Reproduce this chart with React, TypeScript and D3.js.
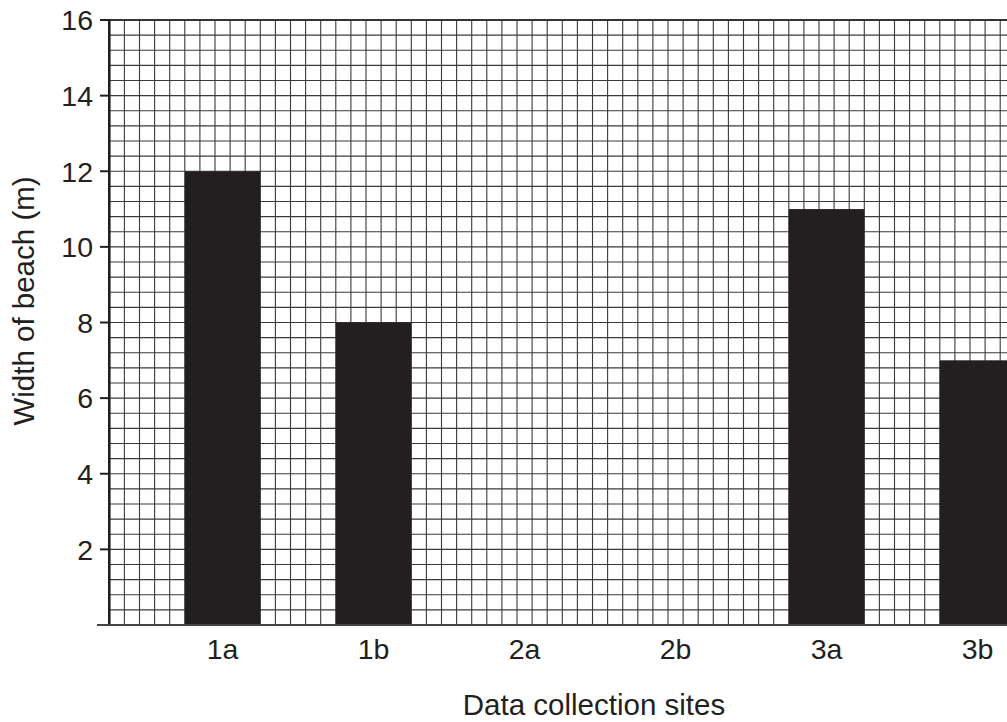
import React from "react";
import * as d3 from "d3";

const categories = ["1a", "1b", "2a", "2b", "3a", "3b"];
const widths = [12, 8, 0, 0, 11, 7];
const yTicks = [2, 4, 6, 8, 10, 12, 14, 16];
const yTitle = "Width of beach (m)";
const xTitle = "Data collection sites";

const W = 1007;
const H = 722;
const X0 = 109.3;
const CELL = 15.1;
const NCOLS = 60;
const Y_TOP = 20;
const Y_BOT = 625;
const FONT = "'Liberation Sans', Arial, Helvetica, sans-serif";
const INK = "#231f20";

export default function App() {
  const x = d3
    .scaleBand<string>()
    .domain(categories)
    .range([X0, X0 + NCOLS * CELL])
    .paddingInner(0.5)
    .paddingOuter(0.25)
    .align(1);
  const y = d3.scaleLinear().domain([0, 16]).range([Y_BOT, Y_TOP]);
  const cellX = d3.scaleLinear().domain([0, NCOLS]).range([X0, X0 + NCOLS * CELL]);

  const hLines = d3.range(0, 41).map((i) => y(i * 0.4));
  const vLines = d3.range(0, NCOLS + 1).map((i) => cellX(i));

  return (
    <svg
      width={W}
      height={H}
      style={{ position: "absolute", left: 0, top: 0, background: "#fff" }}
      fontFamily={FONT}
    >
      <rect x={0} y={0} width={W} height={H} fill="#fff" />
      <g stroke="#3a3a3a" strokeWidth={1.1}>
        {hLines.map((yy, i) => (
          <line key={"h" + i} x1={X0} x2={X0 + NCOLS * CELL} y1={yy} y2={yy} />
        ))}
        {vLines.map((xx, i) => (
          <line key={"v" + i} x1={xx} x2={xx} y1={Y_TOP} y2={Y_BOT} />
        ))}
      </g>
      <line x1={X0} x2={X0 + NCOLS * CELL} y1={Y_TOP} y2={Y_TOP} stroke="#333" strokeWidth={2} />
      {categories.map((c, i) =>
        widths[i] > 0 ? (
          <rect
            key={c}
            x={x(c)}
            y={y(widths[i])}
            width={x.bandwidth()}
            height={y(0) - y(widths[i])}
            fill={INK}
          />
        ) : null
      )}
      <line x1={X0} x2={X0} y1={Y_TOP - 1} y2={Y_BOT} stroke={INK} strokeWidth={2.6} />
      <line x1={97} x2={W} y1={Y_BOT} y2={Y_BOT} stroke="#444" strokeWidth={2.2} />
      {yTicks.map((t) => (
        <g key={t}>
          <line x1={100} x2={X0} y1={y(t)} y2={y(t)} stroke={INK} strokeWidth={2} />
          <text x={93} y={y(t)} dy="0.36em" textAnchor="end" fontSize={28.5} fill={INK}>
            {t}
          </text>
        </g>
      ))}
      {categories.map((c) => (
        <text
          key={"l" + c}
          x={(x(c) as number) + x.bandwidth() / 2}
          y={659}
          textAnchor="middle"
          fontSize={28.5}
          fill={INK}
        >
          {c}
        </text>
      ))}
      <text x={594} y={715} textAnchor="middle" fontSize={29.5} fill={INK}>
        {xTitle}
      </text>
      <text
        transform="translate(34,301) rotate(-90)"
        textAnchor="middle"
        fontSize={29.5}
        fill={INK}
      >
        {yTitle}
      </text>
    </svg>
  );
}
